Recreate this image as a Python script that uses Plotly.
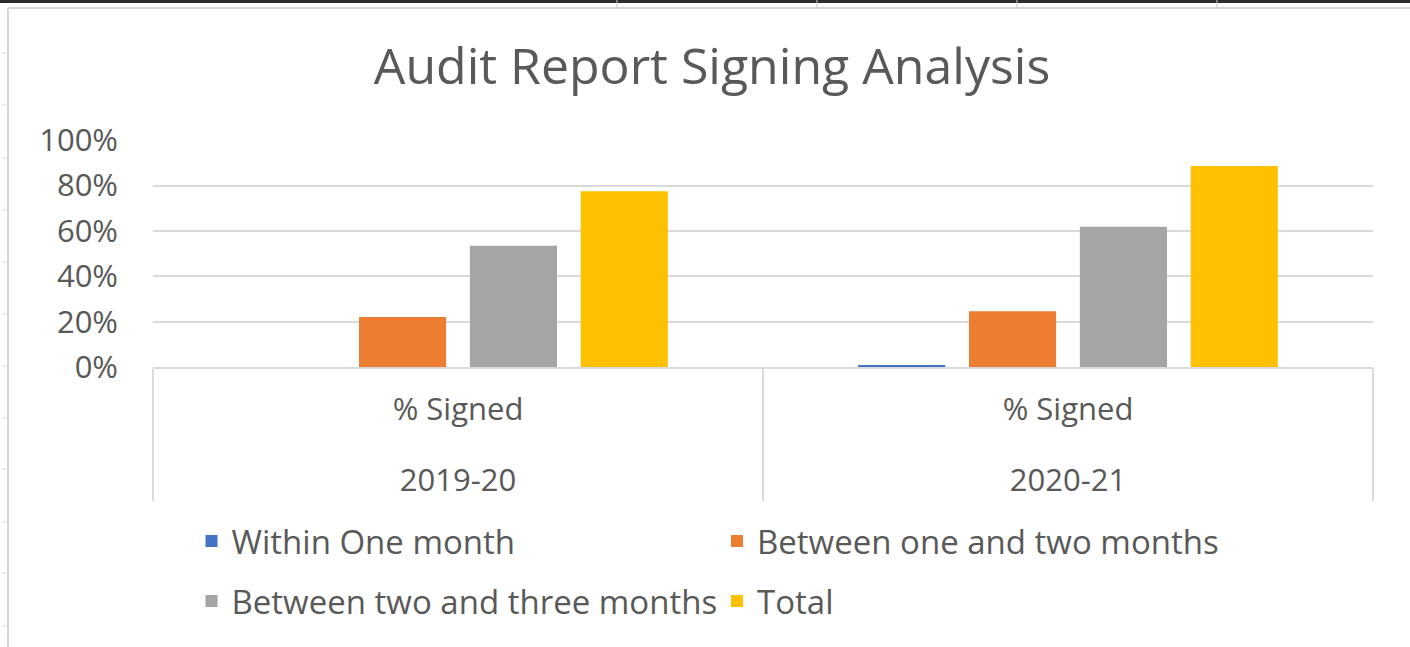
import plotly.graph_objects as go

# ---------------- data ----------------
years = ["2019-20", "2020-21"]
measure = ["% Signed", "% Signed"]
series_names = ["Within One month", "Between one and two months",
                "Between two and three months", "Total"]
within_one_month = [0.0, 0.008]
one_to_two_months = [0.221, 0.246]
two_to_three_months = [0.535, 0.618]
total = [0.775, 0.886]
y_tick_vals = [0, 0.2, 0.4, 0.6, 0.8, 1.0]

# ---------------- style ----------------
colors = ["#4472C4", "#ED7D31", "#A5A5A5", "#FFC000"]
legend_ids = ["legend", "legend", "legend2", "legend2"]
TEXT = "#595959"
GRID = "#D9D9D9"
FONT = "Open Sans"
W, H = 1410, 647
L, R, T, B = 153, 37, 140, 280
PW, PH = W - L - R, H - T - B


def px2x(px):
    return (px - L) / PW


def py2y(py):
    return (H - B - py) / PH


fig = go.Figure()
for name, vals, col, lg in zip(series_names,
                               [within_one_month, one_to_two_months,
                                two_to_three_months, total],
                               colors, legend_ids):
    fig.add_trace(go.Bar(x=[["<br>" + y for y in years], measure], y=vals, name=name,
                         marker=dict(color=col, line=dict(width=0)),
                         legend=lg))

# spreadsheet backdrop (decoration)
shapes = []
shapes.append(dict(type="line", xref="paper", yref="paper",
                   x0=px2x(0), x1=px2x(W), y0=py2y(1.5), y1=py2y(1.5),
                   line=dict(color="#2B2B2B", width=3)))
shapes.append(dict(type="line", xref="paper", yref="paper",
                   x0=px2x(8), x1=px2x(W), y0=py2y(8), y1=py2y(8),
                   line=dict(color="#D6D6D6", width=2)))
for vx in [617, 817, 1017, 1217]:
    shapes.append(dict(type="line", xref="paper", yref="paper",
                       x0=px2x(vx), x1=px2x(vx), y0=py2y(0), y1=py2y(8),
                       line=dict(color="#C8C8C8", width=1)))
shapes.append(dict(type="line", xref="paper", yref="paper",
                   x0=px2x(8), x1=px2x(8), y0=py2y(8), y1=py2y(H),
                   line=dict(color="#D6D6D6", width=2)))
for ty in [53, 105, 158, 210, 262, 314, 366, 418, 469, 522, 573, 626]:
    shapes.append(dict(type="line", xref="paper", yref="paper",
                       x0=px2x(2), x1=px2x(8), y0=py2y(ty), y1=py2y(ty),
                       line=dict(color="#D6D6D6", width=1)))

fig.update_layout(
    width=W, height=H,
    margin=dict(l=L, r=R, t=T, b=B, pad=0),
    paper_bgcolor="white", plot_bgcolor="white",
    font=dict(family=FONT, color=TEXT, size=31),
    title=dict(text="Audit Report Signing Analysis",
               font=dict(family=FONT, size=50, color=TEXT),
               x=712 / W, xanchor="center",
               y=1 - 66 / H, yanchor="middle", xref="container", yref="container"),
    barmode="group", bargap=0.273, bargroupgap=0.214,
    showlegend=True,
    legend=dict(orientation="h", x=px2x(191.5), xanchor="left",
                y=py2y(541), yanchor="middle", entrywidth=480.5,
                font=dict(family=FONT, size=33, color=TEXT),
                bgcolor="rgba(0,0,0,0)"),
    legend2=dict(orientation="h", x=px2x(191.5), xanchor="left",
                 y=py2y(601), yanchor="middle", entrywidth=480.5,
                 font=dict(family=FONT, size=33, color=TEXT),
                 bgcolor="rgba(0,0,0,0)"),
    shapes=shapes,
)
fig.update_xaxes(type="multicategory", showline=True, linecolor=GRID, linewidth=2,
                 showdividers=True, dividercolor=GRID, dividerwidth=2,
                 tickfont=dict(family=FONT, size=31, color=TEXT),
                 showgrid=False, ticks="", ticklabelstandoff=14)
fig.update_yaxes(range=[0, 1.001], tickvals=y_tick_vals, tickformat=".0%",
                 showgrid=True, gridcolor=GRID, gridwidth=2, zeroline=False,
                 showline=False, ticks="", ticklabelstandoff=34,
                 tickfont=dict(family=FONT, size=31, color=TEXT))

fig.write_html("out.html", config={"displayModeBar": False},
               post_script="document.body.style.margin='0';")
